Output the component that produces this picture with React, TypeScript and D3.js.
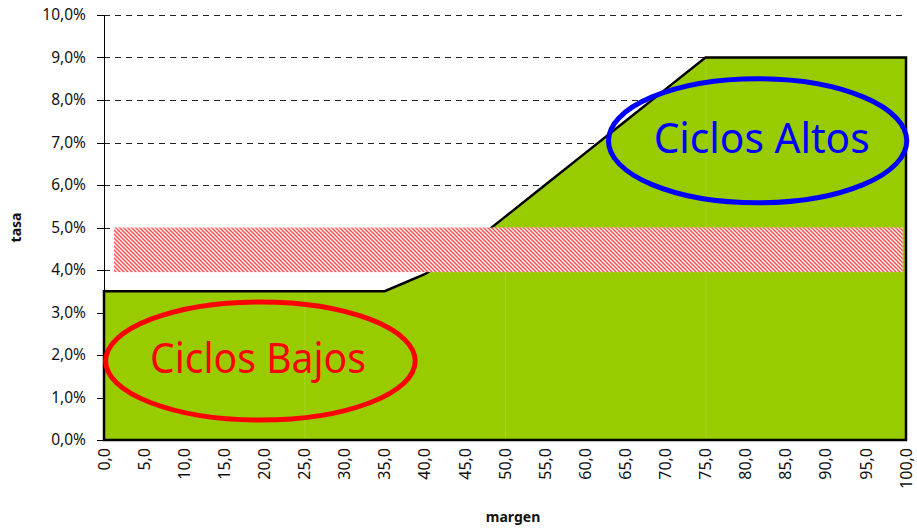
import React, { useEffect, useRef } from 'react';
import * as d3 from 'd3';

// margen (x) and tasa (%) of the green profile
const margen = [0, 5, 10, 15, 20, 25, 30, 35, 40, 45, 50, 55, 60, 65, 70, 75, 80, 85, 90, 95, 100];
const tasa = [3.5, 3.5, 3.5, 3.5, 3.5, 3.5, 3.5, 3.5, 3.9, 4.5, 5.25, 6.0, 6.75, 7.5, 8.25, 9.0, 9.0, 9.0, 9.0, 9.0, 9.0];

// hatched band
const bandX = [1.25, 99.6];
const bandY = [3.95, 5.0];

const yTicks = [0, 1, 2, 3, 4, 5, 6, 7, 8, 9, 10];
const xTicks = d3.range(0, 101, 5);

const seams = [25, 50, 75];

const labels = ['Ciclos Bajos', 'Ciclos Altos'];
const labelColors = ['#ff0000', '#0000ff'];
const labelCx = [19.5, 81.5];
const labelCy = [1.86, 7.04];
const labelRx = [19.3, 18.6];
const labelRy = [1.39, 1.46];
const labelTextX = [19.2, 82.0];

const W = 917;
const H = 529;

const App = () => {
  const ref = useRef<SVGSVGElement>(null);

  useEffect(() => {
    const svg = d3.select(ref.current);
    svg.selectAll('*').remove();

    const x = d3.scaleLinear().domain([0, 100]).range([104, 906]);
    const y = d3.scaleLinear().domain([0, 10]).range([440, 15]);

    const font = "'Noto Sans', sans-serif";

    const defs = svg.append('defs');
    const pat = defs
      .append('pattern')
      .attr('id', 'hatch')
      .attr('patternUnits', 'userSpaceOnUse')
      .attr('width', 4)
      .attr('height', 4);
    pat.append('rect').attr('width', 4).attr('height', 4).attr('fill', '#fff');
    pat
      .append('path')
      .attr('d', 'M-1,-1 L5,5 M-1,3 L1,5 M3,-1 L5,1')
      .attr('stroke', '#ff4d4d')
      .attr('stroke-width', 1.5);

    // gridlines
    svg
      .append('g')
      .selectAll('line')
      .data(yTicks.filter(d => d > 0))
      .enter()
      .append('line')
      .attr('x1', x(0))
      .attr('x2', x(100))
      .attr('y1', d => Math.round(y(d)) + 0.5)
      .attr('y2', d => Math.round(y(d)) + 0.5)
      .attr('stroke', '#222')
      .attr('stroke-dasharray', '6,5');

    // green area
    const pts: [number, number][] = margen.map((m, i) => [m, tasa[i]]);
    const area = d3
      .area<[number, number]>()
      .x(d => x(d[0]))
      .y0(y(0))
      .y1(d => y(d[1]));
    svg
      .append('path')
      .datum(pts)
      .attr('d', area)
      .attr('fill', '#99cc00');

    // faint seams
    svg
      .append('g')
      .selectAll('line')
      .data(seams)
      .enter()
      .append('line')
      .attr('x1', d => x(d) + 0.5)
      .attr('x2', d => x(d) + 0.5)
      .attr('y1', y(0))
      .attr('y2', d => y(tasa[margen.indexOf(d)]))
      .attr('stroke', '#a6d21f')
      .attr('stroke-width', 1);

    // outline
    svg
      .append('path')
      .datum(pts)
      .attr('d', d => {
        const line = d3.line<[number, number]>().x(p => x(p[0])).y(p => y(p[1]));
        return line([[0, 0], ...d, [100, 0]]) + 'Z';
      })
      .attr('fill', 'none')
      .attr('stroke', '#000')
      .attr('stroke-width', 2.5)
      .attr('stroke-linejoin', 'miter');

    // hatched band
    svg
      .append('rect')
      .attr('x', x(bandX[0]))
      .attr('width', x(bandX[1]) - x(bandX[0]))
      .attr('y', y(bandY[1]))
      .attr('height', y(bandY[0]) - y(bandY[1]))
      .attr('fill', 'url(#hatch)');

    // y axis
    const ya = svg.append('g');
    ya.append('line')
      .attr('x1', x(0) + 0.5)
      .attr('x2', x(0) + 0.5)
      .attr('y1', y(10))
      .attr('y2', y(0))
      .attr('stroke', '#000');
    ya.selectAll('.tick')
      .data(yTicks)
      .enter()
      .append('line')
      .attr('x1', x(0) - 7)
      .attr('x2', x(0))
      .attr('y1', d => Math.round(y(d)) + 0.5)
      .attr('y2', d => Math.round(y(d)) + 0.5)
      .attr('stroke', '#000');
    ya.selectAll('text')
      .data(yTicks)
      .enter()
      .append('text')
      .attr('x', 86)
      .attr('y', d => y(d))
      .attr('dy', '0.35em')
      .attr('text-anchor', 'end')
      .style('font-family', font)
      .style('font-size', '15.5px')
      .style('fill', '#111')
      .text(d => d3.format('.1f')(d).replace('.', ',') + '%');

    // x axis labels
    svg
      .append('g')
      .selectAll('text')
      .data(xTicks)
      .enter()
      .append('text')
      .attr('transform', d => `translate(${x(d)},${448}) rotate(-90)`)
      .attr('dy', '0.35em')
      .attr('text-anchor', 'end')
      .style('font-family', font)
      .style('font-size', '16px')
      .style('fill', '#111')
      .text(d => d3.format('.1f')(d).replace('.', ','));

    // axis titles
    svg
      .append('text')
      .attr('x', (x(0) + x(100)) / 2 + 8)
      .attr('y', 522)
      .attr('text-anchor', 'middle')
      .style('font-family', font)
      .style('font-size', '14px')
      .style('font-weight', 'bold')
      .style('fill', '#111')
      .text('margen');
    svg
      .append('text')
      .attr('transform', `translate(21,${y(5)}) rotate(-90)`)
      .attr('text-anchor', 'middle')
      .style('font-family', font)
      .style('font-size', '14px')
      .style('font-weight', 'bold')
      .style('fill', '#111')
      .text('tasa');

    // annotations
    const ann = svg.append('g');
    labels.forEach((lab, i) => {
      ann
        .append('ellipse')
        .attr('cx', x(labelCx[i]))
        .attr('cy', y(labelCy[i]))
        .attr('rx', x(labelRx[i]) - x(0))
        .attr('ry', y(0) - y(labelRy[i]))
        .attr('fill', 'none')
        .attr('stroke', labelColors[i])
        .attr('stroke-width', 5);
      ann
        .append('text')
        .attr('x', x(labelTextX[i]))
        .attr('y', y(labelCy[i]) + 12)
        .attr('text-anchor', 'middle')
        .attr('textLength', 216)
        .attr('lengthAdjust', 'spacingAndGlyphs')
        .style('font-family', font)
        .style('font-size', '42px')
        .style('fill', labelColors[i])
        .text(lab);
    });
  }, []);

  return (
    <svg
      ref={ref}
      width={W}
      height={H}
      style={{ position: 'absolute', left: 0, top: 0, background: '#fff' }}
    />
  );
};

export default App;
